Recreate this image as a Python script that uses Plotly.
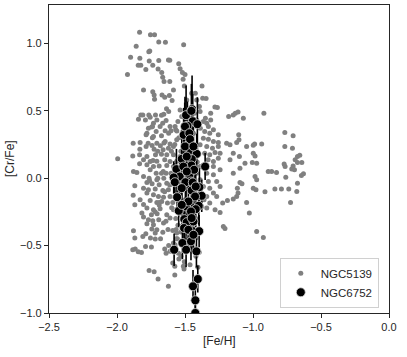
import plotly.graph_objects as go

# NGC5139 ([Fe/H], [Cr/Fe])
fe_5139 = [
-1.834,-1.754,-1.724,-1.693,-1.644,-1.859,-1.51,-1.766,-1.759,-1.90,-1.832,-1.763,-1.693,-1.622,-1.612,
-1.844,-1.825,-1.737,-1.546,-1.788,-1.698,-1.536,-1.923,-1.671,-1.519,-1.664,-1.5,-1.654,-1.612,-1.514,-1.505,
-1.805,-1.737,-1.727,-1.724,-1.669,-1.649,-1.615,-1.595,-1.585,-1.375,-1.424,-1.37,-1.345,-1.28,-1.262,-1.311,
-1.311,-1.35,-1.636,-1.62,-1.717,-1.673,-1.656,-1.766,-1.825,-1.81,-1.842,-1.791,-1.756,-1.707,-1.732,-1.664,
-1.639,-1.683,-1.61,-1.573,-1.769,-1.739,-1.78,-1.712,-1.646,-1.603,-1.568,-1.786,-1.732,-1.673,-1.62,-1.881,
-1.83,-1.771,-1.742,-1.707,-1.681,-1.646,-1.61,-1.561,-1.832,-1.786,-1.727,-1.661,-1.622,-1.585,-1.884,-1.834,
-1.78,-1.717,-1.673,-1.634,-1.585,-1.995,-1.805,-1.756,-1.707,-1.649,-1.61,-1.561,-1.834,-1.78,-1.732,-1.690,
-1.634,-1.585,-1.879,-1.854,-1.756,-1.712,-1.673,-1.639,-1.603,-1.805,-1.764,-1.707,-1.656,-1.78,-1.742,-1.690,
-1.634,-1.585,-1.869,-1.805,-1.769,-1.719,-1.663,-1.622,-1.881,-1.78,-1.732,-1.695,-1.658,-1.61,-1.83,-1.756,
-1.707,-1.671,-1.629,-1.869,-1.805,-1.78,-1.732,-1.683,-1.585,-1.817,-1.747,-1.705,-1.634,-1.805,-1.769,-1.737,
-1.693,-1.61,-1.78,-1.732,-1.658,-1.744,-1.707,-1.590,-1.879,-1.788,-1.719,-1.663,-1.869,-1.81,-1.754,-1.719,
-1.561,-1.79,-1.884,-1.866,-1.844,-1.82,-1.747,-1.649,-1.639,-1.610,-1.573,-1.548,-1.59,-1.575,-1.512,-1.507,
-1.463,-1.764,-1.727,-1.698,-1.575,-1.622,-1.433,-1.419,
-1.394,-1.431,-1.389,-1.414,-1.365,-1.34,-1.328,-1.291,-1.387,-1.355,-1.318,-1.255,-1.365,-1.328,-1.291,-1.255,
-1.389,-1.340,-1.298,-1.255,-1.194,-1.169,-1.355,-1.318,-1.279,-1.242,-1.330,-1.291,-1.255,-1.389,-1.352,-1.291,
-1.242,-1.340,-1.291,-1.389,-1.328,-1.267,-1.365,-1.318,-1.389,-1.340,-1.291,-1.360,-1.318,-1.377,-1.34,-1.279,
-1.242,-1.218,-1.206,-1.188,
-1.179,-1.145,-1.13,-1.11,-1.071,-0.92,-1.105,-1.12,-1.103,-1.047,-0.998,-0.988,-0.936,-1.145,-1.10,-0.998,
-0.985,-1.169,-1.096,-1.059,-0.973,-1.005,-1.145,-0.985,-0.973,-1.096,-0.888,-0.863,-0.827,-0.771,-0.764,-0.759,
-0.766,-0.710,-0.766,-0.705,-0.673,-0.656,-0.690,-0.673,-0.641,-0.705,-0.715,-0.695,-0.629,-0.644,-0.673,-0.737,
-0.678,-0.724,-0.839,-0.791,-0.912,-0.998,-0.978,-1.047,-1.027,-0.973,-0.924,-1.110,-1.120,-1.115,-1.145,-1.081,
-1.242,-1.267,-1.223,
-1.536,-1.524,-1.487,-1.451,-1.536,-1.524,-1.487,-1.5,-1.536,-1.524,-1.487,-1.451,-1.438,-1.414,-1.426,-1.438,
-1.414,-1.552,-1.545,-1.530,-1.470,-1.560,-1.540,-1.478,-1.552,-1.530,-1.565,-1.545,-1.410,-1.400,-1.420,-1.395,
-1.560,-1.575,-1.548,-1.556,-1.530,-1.505,-1.420,-1.405,-1.575,-1.590,-1.568,-1.565,-1.600,-1.612,-1.598,-1.585,
-1.740,-1.700,-1.660,-1.760,-1.650,-1.690,-1.720,-1.640,-1.680,-1.620,-1.700,-1.745,-1.655,-1.690,-1.625,-1.735,
]
cr_5139 = [
1.081,1.064,1.064,1.01,1.007,0.978,0.99,0.938,0.943,0.896,0.889,0.869,0.872,0.877,0.874,
0.837,0.837,0.837,0.849,0.805,0.81,0.812,0.768,0.783,0.783,0.748,0.768,0.716,0.716,0.733,0.684,
0.654,0.64,0.617,0.585,0.617,0.6,0.612,0.575,0.654,0.684,0.63,0.593,0.59,0.528,0.523,0.481,
0.432,0.444,0.514,0.494,0.469,0.467,0.474,0.469,0.469,0.469,0.437,0.432,0.452,0.432,0.407,0.407,
0.427,0.383,0.383,0.383,0.37,0.383,0.333,0.346,0.351,0.351,0.358,0.321,0.309,0.314,0.333,0.259,
0.264,0.259,0.242,0.259,0.24,0.272,0.254,0.284,0.215,0.235,0.215,0.21,0.222,0.235,0.165,0.173,
0.16,0.173,0.178,0.173,0.173,0.143,0.136,0.123,0.126,0.136,0.123,0.126,0.106,0.099,0.086,0.091,
0.094,0.086,0.049,0.042,0.062,0.037,0.037,0.037,0.037,0.012,0.0,-0.012,0.0,-0.032,-0.042,-0.049,
-0.037,-0.025,-0.057,-0.074,-0.086,-0.081,-0.091,-0.086,-0.126,-0.111,-0.123,-0.136,-0.141,-0.136,-0.16,-0.165,
-0.18,-0.173,-0.185,-0.198,-0.195,-0.222,-0.235,-0.227,-0.235,-0.259,-0.272,-0.264,-0.272,-0.289,-0.309,-0.316,
-0.309,-0.296,-0.338,-0.346,-0.333,-0.378,-0.383,-0.388,-0.39,-0.412,-0.407,-0.402,-0.444,-0.432,-0.444,-0.452,
-0.407,-0.506,-0.531,-0.526,-0.546,-0.551,-0.511,-0.526,-0.556,-0.543,-0.494,-0.556,-0.63,-0.654,-0.654,-0.674,
-0.642,-0.684,-0.694,-0.748,-0.719,-0.802,-0.526,-0.444,
0.531,0.481,0.494,0.432,0.42,0.407,0.383,0.358,0.37,0.346,0.333,0.321,0.296,0.289,0.272,0.264,
0.247,0.235,0.222,0.235,0.259,0.247,0.185,0.173,0.19,0.185,0.136,0.123,0.148,0.086,0.074,0.086,
0.062,0.037,0.025,-0.012,-0.025,-0.025,-0.062,-0.074,-0.111,-0.136,-0.111,-0.16,-0.185,-0.21,-0.222,-0.235,
-0.254,-0.358,-0.373,-0.165,
0.457,0.469,0.481,0.491,0.444,0.481,0.321,0.264,0.284,0.235,0.244,0.254,0.254,0.185,0.16,0.185,
0.165,0.136,0.074,0.111,0.111,0.116,0.037,0.012,-0.012,-0.032,0.049,0.049,0.042,0.104,0.086,0.007,
0.235,0.222,0.338,0.314,0.16,0.17,0.136,0.116,0.116,0.091,0.067,0.062,0.032,0.02,-0.037,-0.081,
-0.099,-0.18,-0.081,-0.081,-0.101,-0.074,-0.086,-0.18,-0.259,-0.395,-0.44,-0.111,-0.136,-0.074,-0.155,-0.042,
-0.062,-0.136,-0.185,
0.506,0.457,0.58,0.63,0.16,0.086,-0.062,-0.16,-0.259,-0.358,-0.457,-0.309,-0.16,0.037,0.21,0.333,
0.58,0.42,0.30,0.20,0.05,-0.10,-0.20,-0.28,-0.35,-0.40,-0.45,-0.60,0.12,-0.05,-0.30,-0.55,
0.35,0.25,-0.12,-0.45,-0.58,-0.62,-0.58,-0.66,0.05,-0.18,-0.30,-0.38,0.20,-0.05,-0.22,-0.48,
0.30,0.20,0.05,-0.02,-0.10,-0.20,-0.25,-0.32,-0.45,-0.50,0.00,0.38,0.26,-0.18,-0.38,0.13,
]

# NGC6752 ([Fe/H], [Cr/Fe], error)
fe_6752 = [
-1.448,-1.492,-1.453,-1.443,-1.482,-1.409,-1.502,-1.51,-1.470,-1.460,-1.414,-1.524,-1.45,-1.352,-1.453,
-1.563,-1.468,-1.539,-1.583,-1.456,-1.575,-1.497,-1.443,-1.394,-1.451,-1.421,-1.558,-1.377,-1.492,-1.399,
-1.421,-1.546,-1.456,-1.505,-1.487,-1.438,-1.507,-1.441,-1.396,-1.453,-1.519,-1.58,-1.456,-1.492,-1.416,
-1.406,-1.441,-1.424,-1.424,
-1.5,-1.468,-1.463,-1.5,-1.438,-1.487,-1.512,-1.433,-1.487,-1.524,-1.426,-1.475,-1.524,-1.451,-1.475,-1.438,
]
cr_6752 = [
0.511,0.467,0.499,0.422,0.388,0.40,0.341,0.321,0.252,0.19,0.18,0.143,0.141,0.086,0.094,
0.067,0.025,0.012,0.005,-0.025,-0.03,-0.03,-0.032,-0.067,-0.091,-0.062,-0.141,-0.131,-0.21,-0.205,
-0.23,-0.242,-0.247,-0.304,-0.326,-0.321,-0.37,-0.393,-0.393,-0.437,-0.481,-0.531,-0.469,-0.531,-0.543,
-0.748,-0.802,-0.906,-1.0,
0.383,0.333,0.289,0.235,0.235,0.16,0.086,0.062,0.049,-0.074,-0.136,-0.173,-0.198,-0.296,-0.383,-0.42,
]
err_6752 = [
0.25,0.22,0.20,0.20,0.18,0.20,0.22,0.20,0.18,0.16,0.15,0.15,0.18,0.10,0.15,
0.15,0.14,0.16,0.12,0.15,0.14,0.15,0.16,0.14,0.15,0.14,0.13,0.12,0.15,0.14,
0.14,0.12,0.15,0.14,0.15,0.13,0.14,0.12,0.12,0.12,0.12,0.12,0.14,0.13,0.12,
0.10,0.12,0.10,0.10,
0.22,0.20,0.20,0.18,0.18,0.16,0.16,0.15,0.15,0.15,0.14,0.14,0.14,0.13,0.13,0.12,
]

x_ticks = [-2.5, -2.0, -1.5, -1.0, -0.5, 0.0]
x_labels = ["\u22122.5", "\u22122.0", "\u22121.5", "\u22121.0", "\u22120.5", "0.0"]
y_ticks = [-1.0, -0.5, 0.0, 0.5, 1.0]
y_labels = ["\u22121.0", "\u22120.5", "0.0", "0.5", "1.0"]

ink = "#262626"
font = "Liberation Sans, Arial, sans-serif"

fig = go.Figure()
fig.add_trace(go.Scatter(
    x=fe_5139, y=cr_5139, mode="markers", name="NGC5139",
    marker=dict(color="#808080", size=5, line=dict(width=0)),
))
fig.add_trace(go.Scatter(
    x=fe_6752, y=cr_6752, mode="markers", name="NGC6752",
    marker=dict(color="black", size=9, line=dict(color="#dddddd", width=0.8)),
    error_y=dict(type="data", array=err_6752, visible=True, color="black",
                 thickness=1.6, width=0),
))

axis_common = dict(
    showgrid=False, zeroline=False, showline=True, linecolor=ink, linewidth=1.2,
    mirror=True, ticks="outside", ticklen=4, tickwidth=1.2, tickcolor=ink,
    tickfont=dict(family=font, size=11, color=ink), automargin=False,
)
fig.update_xaxes(range=[-2.5, 0.0], tickvals=x_ticks, ticktext=x_labels, **axis_common)
fig.update_yaxes(range=[-1.0, 1.284], tickvals=y_ticks, ticktext=y_labels, **axis_common)

fig.add_annotation(text="[Fe/H]", xref="paper", yref="paper", x=0.5, y=0,
                   yshift=-19, xanchor="center", yanchor="top", showarrow=False,
                   font=dict(family=font, size=12, color=ink))
fig.add_annotation(text="[Cr/Fe]", xref="paper", yref="paper", x=0, y=0.5,
                   xshift=-30, xanchor="right", yanchor="middle", showarrow=False,
                   textangle=-90, font=dict(family=font, size=12, color=ink))

fig.update_layout(
    width=407, height=357,
    margin=dict(l=49, r=18, t=5, b=44),
    paper_bgcolor="white", plot_bgcolor="white",
    font=dict(family=font, size=11, color=ink),
    legend=dict(x=0.97, y=0.017, xanchor="right", yanchor="bottom",
                bgcolor="rgba(255,255,255,0.8)", bordercolor="#d0d0d0", borderwidth=1,
                font=dict(family=font, size=11.5, color=ink), itemwidth=30,
                tracegroupgap=0),
    showlegend=True,
)

fig.write_html("out.html", config={"displayModeBar": False},
               post_script="document.body.style.margin='0';document.body.style.overflow='hidden';")
